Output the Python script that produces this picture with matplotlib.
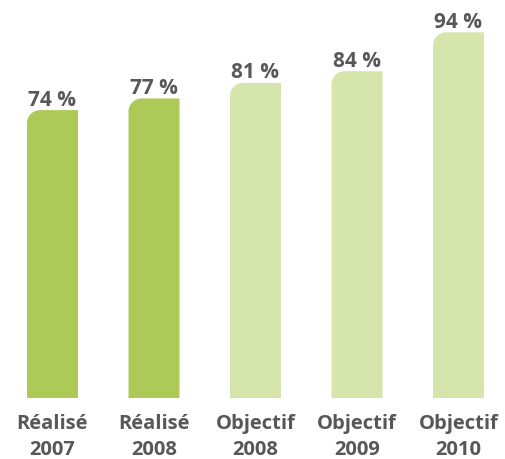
import numpy as np
import matplotlib
matplotlib.use('Agg')
import matplotlib.pyplot as plt
from matplotlib.path import Path
from matplotlib.patches import PathPatch

categories = ['Réalisé\n2007', 'Réalisé\n2008', 'Objectif\n2008', 'Objectif\n2009', 'Objectif\n2010']
values = [74, 77, 81, 84, 94]
is_actual = [True, True, False, False, False]

DARK = '#adc957'
LIGHT = '#d6e5ab'
TEXT = '#58585a'

W, H = 505, 460
fig = plt.figure(figsize=(W / 100, H / 100), dpi=100)
ax = fig.add_axes([0, 0, 1, 1])
ax.axis('off')

# echelle en pixels : centre barre 0 a 52.5 px, pas de 101.5 px, zero a 61 px du bas
px_x = 101.5
px_y = 3.89
ax.set_xlim(-52.5 / px_x, -52.5 / px_x + W / px_x)
ax.set_ylim(-61 / px_y, -61 / px_y + H / px_y)

bar_w = 51 / px_x
rx, ry = 13 / px_x, 13 / px_y
k = 0.5523

for i, (v, act) in enumerate(zip(values, is_actual)):
    x0, x1 = i - bar_w / 2, i + bar_w / 2
    verts = [(x0, 0), (x0, v - ry),
             (x0, v - ry + k * ry), (x0 + rx - k * rx, v), (x0 + rx, v),
             (x1, v), (x1, 0), (x0, 0)]
    codes = [Path.MOVETO, Path.LINETO,
             Path.CURVE4, Path.CURVE4, Path.CURVE4,
             Path.LINETO, Path.LINETO, Path.CLOSEPOLY]
    ax.add_patch(PathPatch(Path(verts, codes), facecolor=DARK if act else LIGHT,
                           edgecolor='none'))
    ax.annotate(f'{v} %', (i, v), xytext=(0, 4), textcoords='offset points',
                ha='center', va='baseline', fontsize=15, fontweight='bold',
                family='Open Sans', color=TEXT)
    l1, l2 = categories[i].split('\n')
    ax.text(i, -30 / px_y, l1, ha='center', va='baseline', fontsize=14.5,
            fontweight='bold', family='Open Sans', color=TEXT)
    ax.text(i, -56 / px_y, l2, ha='center', va='baseline', fontsize=14.5,
            fontweight='bold', family='Open Sans', color=TEXT)

fig.savefig('out.png', dpi=100, facecolor='white')
